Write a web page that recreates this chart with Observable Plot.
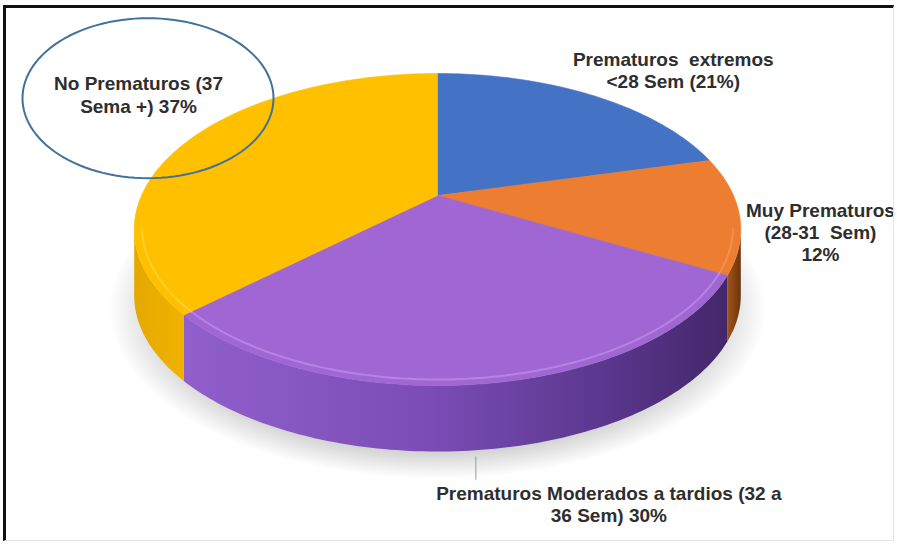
<!DOCTYPE html>
<html>
<head>
<meta charset="utf-8">
<script src="https://cdn.jsdelivr.net/npm/d3@7"></script>
<script src="https://cdn.jsdelivr.net/npm/@observablehq/plot@0.6"></script>
<style>
  body { margin: 0; background: #fff; }
  #chart { position: relative; width: 897px; height: 549px; }
  #marco {
    position: absolute; left: 3px; top: 5px; width: 887px; height: 532px;
    border-left: 3px solid #111; border-top: 3px solid #111;
    border-right: 1px solid #e4e4e4; border-bottom: 1px solid #e4e4e4;
    pointer-events: none;
  }
  #chart svg text { white-space: pre; }
</style>
</head>
<body>
<div id="chart"><div id="marco"></div></div>
<script>
// datos
const categorias = ["Prematuros extremos", "Muy Prematuros", "Prematuros Moderados a tardios", "No Prematuros"];
const porcentajes = [21, 12, 30, 37];
const etiquetas = [
  "Prematuros  extremos\n<28 Sem (21%)",
  "Muy Prematuros\n(28-31  Sem)\n12%",
  "Prematuros Moderados a tardios (32 a\n36 Sem) 30%",
  "No Prematuros (37\nSema +) 37%"
];

// estilos
const coloresTapa = ["#4472C4", "#ED7D31", "#A066D3", "#FFC000"];
const brillo = [null, "#F6A066", "#C79AF3", "#FFD95A"];
const gradLado = [
  null,
  [["0%", "#A3541B"], ["100%", "#6B340E"]],
  [["0%", "#905FCC"], ["45%", "#7B4CB6"], ["80%", "#58358A"], ["100%", "#43276A"]],
  [["0%", "#E5A800"], ["100%", "#F0B300"]]
];
// desplazamiento de cada etiqueta (px) desde el punto medio del borde
const desplaz = [[81, -45.5], [81, -13.5], [124, 34.5], [-49, -66.5]];
const desdeBase = [false, false, true, false];

// perspectiva del disco
const CX = 437, CY = 195, SX = 296, SY = 148.6, C = -0.218;
const FONDO = 66 / SY;

function punto(t, caida = 0, escala = 1) {
  const r = t * Math.PI / 180;
  const u = Math.sin(r) * escala, v = -Math.cos(r) * escala;
  const d = 1 + C * v;
  return {x: u / d, y: v / d + caida};
}
function arco(t0, t1, caida = 0, escala = 1) {
  const n = Math.max(2, Math.ceil(Math.abs(t1 - t0)));
  const pts = [];
  for (let i = 0; i <= n; i++) pts.push(punto(t0 + (t1 - t0) * i / n, caida, escala));
  return pts;
}

const fin = Array.from(d3.cumsum(porcentajes), p => p * 3.6);
const ini = [0, ...fin.slice(0, -1)];
const tDer = Math.acos(C) * 180 / Math.PI;
const tIzq = 360 - tDer;

const tapas = porcentajes.map((p, i) => [{x: 0, y: 0}, ...arco(ini[i], fin[i]), {x: 0, y: 0}]);

const lados = [];
porcentajes.forEach((p, i) => {
  const a = Math.max(ini[i], tDer), b = Math.min(fin[i], tIzq);
  if (a < b) lados.push({i, a, b, pts: [...arco(a, b), ...arco(b, a, FONDO)]});
});

const sombra = arco(0, 360, FONDO + 0.05, 1.08);

const textos = etiquetas.map((t, i) => {
  const p = punto((ini[i] + fin[i]) / 2, desdeBase[i] ? FONDO : 0);
  return {text: t, x: p.x + desplaz[i][0] / SX, y: p.y + desplaz[i][1] / SY};
});

const pMorado = punto((ini[2] + fin[2]) / 2, FONDO);
const guia = [{x: pMorado.x - 9 / SX, y1: pMorado.y + 7 / SY, y2: pMorado.y + 30 / SY}];

const pAmarillo = punto((ini[3] + fin[3]) / 2);
const elipse = d3.range(0, 121).map(k => {
  const a = k / 120 * 2 * Math.PI;
  return {
    x: pAmarillo.x - 39.5 / SX + 125.5 / SX * Math.cos(a),
    y: pAmarillo.y - 43 / SY + 80 / SY * Math.sin(a)
  };
});

const chart = Plot.plot({
  width: 897,
  height: 549,
  margin: 0,
  x: {domain: [-1, 1], range: [CX - SX, CX + SX], axis: null},
  y: {domain: [-1, 1], range: [CY - SY, CY + SY], axis: null},
  marks: [
    Plot.line(sombra, {x: "x", y: "y", fill: "url(#sombra)", stroke: "none"}),
    ...lados.map(l => Plot.line(l.pts, {x: "x", y: "y", fill: `url(#lado-${l.i})`, stroke: "none"})),
    ...tapas.map((pts, i) => Plot.line(pts, {x: "x", y: "y", fill: coloresTapa[i], stroke: coloresTapa[i], strokeWidth: 0.6})),
    ...lados.filter(l => brillo[l.i]).map(l => Plot.line(arco(l.a, l.b, 0, 0.975), {x: "x", y: "y", stroke: brillo[l.i], strokeWidth: 2, strokeOpacity: 0.55})),
    Plot.link(guia, {x1: "x", x2: "x", y1: "y1", y2: "y2", stroke: "#9a9a9a", strokeWidth: 1}),
    Plot.text(textos, {
      x: "x", y: "y", text: "text",
      textAnchor: "middle", lineAnchor: "top", lineHeight: 1.17,
      fontSize: 19, fontWeight: "bold", fontFamily: "Liberation Sans, Arial, sans-serif",
      fill: "#2e2e2e"
    }),
    Plot.line(elipse, {x: "x", y: "y", stroke: "#41719C", strokeWidth: 2})
  ]
});

// degradados para los lados y la sombra
const defs = d3.select(chart).insert("defs", ":first-child");
lados.forEach(l => {
  const g = defs.append("linearGradient").attr("id", `lado-${l.i}`)
    .attr("x1", "0%").attr("x2", "100%").attr("y1", "0%").attr("y2", "0%");
  gradLado[l.i].forEach(([o, c]) => g.append("stop").attr("offset", o).attr("stop-color", c));
});
const rg = defs.append("radialGradient").attr("id", "sombra");
rg.append("stop").attr("offset", "0.82").attr("stop-color", "#000").attr("stop-opacity", 0.2);
rg.append("stop").attr("offset", "1").attr("stop-color", "#000").attr("stop-opacity", 0);

d3.select("#chart").insert(() => chart, ":first-child");
</script>
</body>
</html>
